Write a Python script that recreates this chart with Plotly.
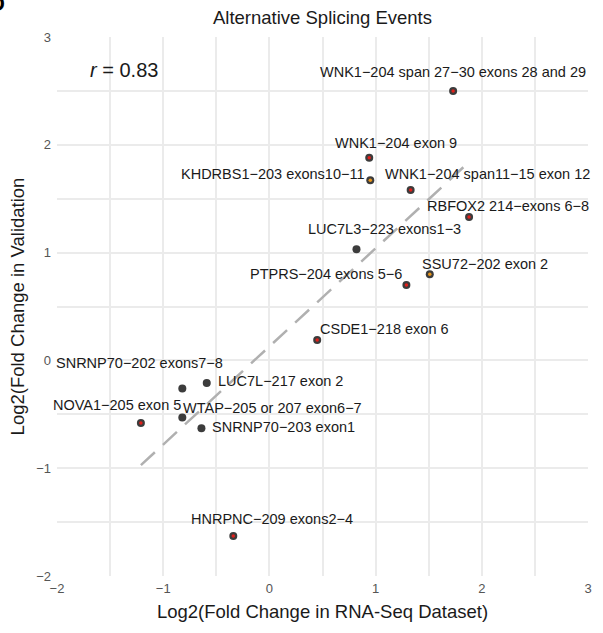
import numpy as np
import plotly.graph_objects as go

# ---------------- data ----------------
events = [
    "WNK1−204 span 27−30 exons 28 and 29",
    "WNK1−204 exon 9",
    "KHDRBS1−203 exons10−11",
    "WNK1−204 span11−15 exon 12",
    "RBFOX2 214−exons 6−8",
    "LUC7L3−223 exons1−3",
    "SSU72−202 exon 2",
    "PTPRS−204 exons 5−6",
    "CSDE1−218 exon 6",
    "SNRNP70−202 exons7−8",
    "LUC7L−217 exon 2",
    "NOVA1−205 exon 5",
    "WTAP−205 or 207 exon6−7",
    "SNRNP70−203 exon1",
    "HNRPNC−209 exons2−4",
]
log2fc_rnaseq = [1.73, 0.94, 0.95, 1.33, 1.88, 0.82, 1.51, 1.29, 0.45,
                 -0.82, -0.59, -1.21, -0.82, -0.64, -0.34]
log2fc_validation = [2.50, 1.88, 1.67, 1.58, 1.33, 1.03, 0.80, 0.70, 0.19,
                     -0.26, -0.21, -0.58, -0.53, -0.63, -1.63]
group = ["red", "red", "orange", "red", "red", "none", "orange", "red", "red",
         "none", "none", "red", "none", "none", "red"]
r_text = "<i>r</i> = 0.83"

# ---------------- style ----------------
FONT = "Liberation Sans, Arial, sans-serif"
inner_colors = {"red": "#e0201b", "orange": "#e8951a"}
# label placement: (xanchor, xshift px, yshift px)
label_place = [
    ("center", 0, 19), ("center", 27, 15), ("right", -3, 6), ("center", 77, 16),
    ("center", 39, 11), ("center", 28, 20), ("center", 55, 10), ("right", -2, 11),
    ("left", 1, 11), ("center", -43, 25), ("left", 9, 2), ("center", -24, 18),
    ("left", -1, 10), ("left", 9, 1), ("center", 39, 17),
]

fig = go.Figure()

# regression line
xa = np.array(log2fc_rnaseq)
ya = np.array(log2fc_validation)
slope, intercept = np.polyfit(xa, ya, 1)
xl = np.array([xa.min(), xa.max()])
fig.add_trace(go.Scatter(x=xl, y=slope * xl + intercept, mode="lines",
                         line=dict(color="#b0b0b0", width=2.5, dash="19px,11px"),
                         hoverinfo="skip", showlegend=False))

# outer points
fig.add_trace(go.Scatter(x=log2fc_rnaseq, y=log2fc_validation, mode="markers",
                         marker=dict(size=8, color="#3c3c3c"),
                         text=events, showlegend=False))
# inner coloured centres
for g, c in inner_colors.items():
    gx = [x for x, k in zip(log2fc_rnaseq, group) if k == g]
    gy = [y for y, k in zip(log2fc_validation, group) if k == g]
    fig.add_trace(go.Scatter(x=gx, y=gy, mode="markers",
                             marker=dict(size=3.5, color=c),
                             hoverinfo="skip", showlegend=False))

# labels
for name, x, y, (anc, dx, dy) in zip(events, log2fc_rnaseq, log2fc_validation, label_place):
    fig.add_annotation(x=x, y=y, xref="x", yref="y", text=name, showarrow=False,
                       xanchor=anc, yanchor="middle", xshift=dx, yshift=dy,
                       font=dict(family=FONT, size=14.5, color="#1a1a1a"))

fig.add_annotation(x=0.127, y=0.939, xref="paper", yref="paper", text=r_text,
                   showarrow=False, xanchor="center", yanchor="middle",
                   font=dict(family=FONT, size=20, color="#1a1a1a"))

# cut-off panel letter at top-left
fig.add_annotation(x=-0.095, y=1.062, xref="paper", yref="paper", text="<b>D</b>",
                   showarrow=False, xanchor="right", yanchor="middle",
                   font=dict(family=FONT, size=22, color="#000000"))

axis_common = dict(
    showline=False, zeroline=False, showgrid=True, gridcolor="#ebebeb", gridwidth=1.6,
    dtick=1, tick0=0, ticks="", tickfont=dict(family=FONT, size=13, color="#555555"),
    minor=dict(dtick=0.5, showgrid=True, gridcolor="#ebebeb", gridwidth=1.6),
)
fig.update_xaxes(range=[-2, 3], ticklabelstandoff=3,
                 title=dict(text="Log2(Fold Change in RNA-Seq Dataset)",
                            font=dict(family=FONT, size=18.5, color="#1a1a1a"), standoff=10),
                 **axis_common)
fig.update_yaxes(range=[-2, 3], ticklabelstandoff=5,
                 title=dict(text="Log2(Fold Change in Validation",
                            font=dict(family=FONT, size=18.5, color="#1a1a1a"), standoff=6),
                 **axis_common)

fig.update_layout(
    width=603, height=633,
    margin=dict(l=57, r=11, t=37, b=57),
    plot_bgcolor="white", paper_bgcolor="white",
    title=dict(text="Alternative Splicing Events", x=0.5, xref="paper", y=0.973,
               yanchor="middle", font=dict(family=FONT, size=18.5, color="#1a1a1a")),
    font=dict(family=FONT),
)

fig.write_html("out.html")
